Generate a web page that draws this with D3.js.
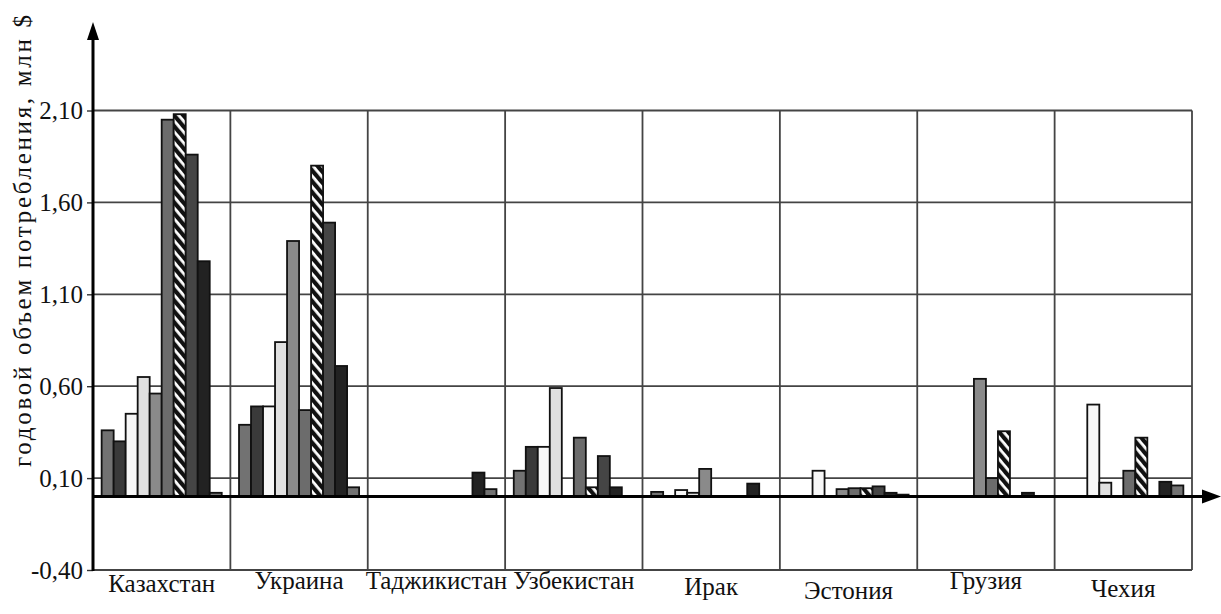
<!DOCTYPE html>
<html>
<head>
<meta charset="utf-8">
<script src="https://cdn.jsdelivr.net/npm/d3@7"></script>
<style>
  body { margin: 0; background: #fff; }
  svg text { font-family: "Liberation Serif", "Times New Roman", Times, "DejaVu Serif", serif; fill: #111; }
</style>
</head>
<body>
<script>
var countries = ["Казахстан", "Украина", "Таджикистан", "Узбекистан", "Ирак", "Эстония", "Грузия", "Чехия"];
var seriesIds = ["s1", "s2", "s3", "s4", "s5", "s6", "s7", "s8", "s9", "s10"];

// values per country, one per series (млн $)
var kazakhstan = [0.36, 0.30, 0.45, 0.65, 0.56, 2.05, 2.08, 1.86, 1.28, 0.02];
var ukraine    = [0.39, 0.49, 0.49, 0.84, 1.39, 0.47, 1.80, 1.49, 0.71, 0.05];
var tajikistan = [0, 0, 0, 0, 0, 0, 0, 0, 0.13, 0.04];
var uzbekistan = [0.14, 0.27, 0.27, 0.59, 0, 0.32, 0.05, 0.22, 0.05, 0];
var iraq       = [0.025, 0, 0.035, 0.02, 0.15, 0, 0, 0, 0.07, 0];
var estonia    = [0, 0, 0.14, 0, 0.04, 0.045, 0.045, 0.055, 0.02, 0.01];
var georgia    = [0, 0, 0, 0, 0.64, 0.10, 0.355, 0, 0.02, 0];
var czechia    = [0, 0, 0.50, 0.075, 0, 0.14, 0.32, 0, 0.08, 0.06];
var values = [kazakhstan, ukraine, tajikistan, uzbekistan, iraq, estonia, georgia, czechia];

var yTicks = [-0.40, 0.10, 0.60, 1.10, 1.60, 2.10];

var fills = ["#727272", "#3a3a3a", "#f7f7f7", "#e0e0e0", "#8a8a8a", "#6c6c6c", "url(#hatch)", "#454545", "#222222", "#727272"];
var labelShift = [0, -3, -3, -3, 3, 7, -3, 5];

var width = 1221, height = 614;
var pLeft = 93, pRight = 1192, pTop = 110.5, pBottom = 570;
var serif = "'Liberation Serif', 'Times New Roman', Times, 'DejaVu Serif', serif";

var svg = d3.select("body").append("svg").attr("width", width).attr("height", height);

// hatch pattern: black with white diagonal stripes
var pat = svg.append("defs").append("pattern")
  .attr("id", "hatch")
  .attr("patternUnits", "userSpaceOnUse")
  .attr("width", 7).attr("height", 7)
  .attr("patternTransform", "rotate(50)");
pat.append("rect").attr("width", 7).attr("height", 7).attr("fill", "#111");
pat.append("rect").attr("width", 7).attr("height", 2.8).attr("fill", "#fff");

var x0 = d3.scaleBand().domain(countries).range([pLeft, pRight]);
var x1 = d3.scaleBand().domain(seriesIds).range([0, x0.bandwidth()]).paddingOuter(0.72);
var y = d3.scaleLinear().domain([-0.4, 2.1]).range([pBottom, pTop]);

var ru = d3.formatLocale({decimal: ",", thousands: " ", grouping: [3], currency: ["", ""], minus: "-"});
var fmt = ru.format(".2f");

// grid
svg.append("g").selectAll("line")
  .data(yTicks).enter().append("line")
  .attr("x1", pLeft).attr("x2", pRight)
  .attr("y1", function(d) { return y(d); }).attr("y2", function(d) { return y(d); })
  .attr("stroke", "#444").attr("stroke-width", 1.8);

svg.append("g").selectAll("line")
  .data(countries.slice(1).concat(["end"])).enter().append("line")
  .attr("x1", function(d) { return d === "end" ? pRight : x0(d); })
  .attr("x2", function(d) { return d === "end" ? pRight : x0(d); })
  .attr("y1", y(2.1)).attr("y2", y(-0.4))
  .attr("stroke", "#444").attr("stroke-width", 1.8);

// bars
var groups = svg.append("g").selectAll("g")
  .data(countries).enter().append("g")
  .attr("transform", function(d) { return "translate(" + x0(d) + ",0)"; });

groups.selectAll("rect")
  .data(function(d, i) {
    return values[i].map(function(v, j) { return {s: seriesIds[j], v: v, j: j}; })
      .filter(function(e) { return e.v > 0; });
  })
  .enter().append("rect")
  .attr("x", function(d) { return x1(d.s); })
  .attr("width", x1.bandwidth())
  .attr("y", function(d) { return y(d.v); })
  .attr("height", function(d) { return y(0) - y(d.v); })
  .attr("fill", function(d) { return fills[d.j]; })
  .attr("stroke", "#111").attr("stroke-width", 1.8);

// y axis ticks and labels
var yAxis = d3.axisLeft(y).tickValues(yTicks).tickSize(6).tickPadding(4).tickFormat(fmt);
var ya = svg.append("g").attr("transform", "translate(" + pLeft + ",0)").call(yAxis);
ya.attr("font-family", serif);
ya.select(".domain").remove();
ya.selectAll(".tick line").attr("stroke", "#333").attr("stroke-width", 1.4);
ya.selectAll(".tick text").attr("font-size", 25).style("font-family", serif).attr("fill", "#111");

// y axis line with arrow
svg.append("line")
  .attr("x1", pLeft).attr("x2", pLeft)
  .attr("y1", pBottom + 1).attr("y2", 36)
  .attr("stroke", "#000").attr("stroke-width", 3);
svg.append("path")
  .attr("d", "M" + pLeft + ",22 L" + (pLeft - 6) + ",40 L" + (pLeft + 6) + ",40 Z")
  .attr("fill", "#000");

// zero line with arrow
svg.append("line")
  .attr("x1", pLeft).attr("x2", 1208)
  .attr("y1", y(0)).attr("y2", y(0))
  .attr("stroke", "#000").attr("stroke-width", 3);
svg.append("path")
  .attr("d", "M1221," + y(0) + " L1202," + (y(0) - 7) + " L1202," + (y(0) + 7) + " Z")
  .attr("fill", "#000");

// category labels
svg.append("g").selectAll("text")
  .data(countries).enter().append("text")
  .attr("x", function(d) { return x0(d) + x0.bandwidth() / 2; })
  .attr("y", function(d, i) { return 592 + labelShift[i]; })
  .attr("text-anchor", "middle")
  .attr("font-size", 25)
  .style("font-family", serif)
  .text(function(d) { return d; });

// y title
svg.append("text")
  .attr("transform", "translate(31,241) rotate(-90)")
  .attr("text-anchor", "middle")
  .attr("font-size", 25)
  .style("font-family", serif)
  .attr("textLength", 452)
  .attr("lengthAdjust", "spacing")
  .text("годовой объем потребления, млн $");
</script>
</body>
</html>
